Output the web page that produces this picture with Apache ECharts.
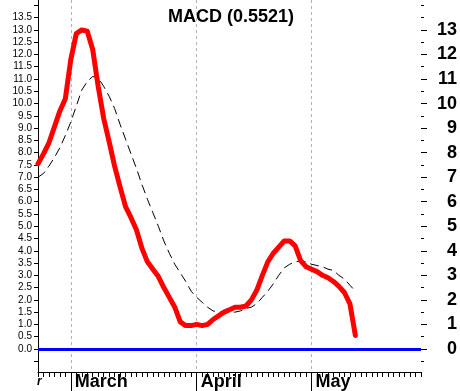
<!DOCTYPE html>
<html><head><meta charset="utf-8">
<script src="https://cdn.jsdelivr.net/npm/echarts@6/dist/echarts.min.js"></script>
<style>html,body{margin:0;padding:0;background:#fff}#c{width:460px;height:391px}</style>
</head><body><div id="c"></div>
<script>
// trading days shown on the axis
const febDays = [19, 22, 23, 24, 25, 26];
const marDays = [1,2,3,4,5,8,9,10,11,12,15,16,17,18,19,22,23,24,25,26,29,30,31];
const aprDays = [1,5,6,7,8,9,12,13,14,15,16,19,20,21,22,23,26,27,28,29,30];
const mayDays = [3,4,5,6,7,10,11,12,13,14,17,18,19,20,21,24,25,26,27,28,31];
const monthNames = ['February', 'March', 'April', 'May'];

// MACD line (red) and signal line (black dashed)
const macd = [7.55, 7.95, 8.4, 9.05, 9.7, 10.2, 11.8, 12.85, 13.0, 12.95,
  12.2, 10.7, 9.4, 8.45, 7.45, 6.6, 5.8, 5.35, 4.85, 4.1,
  3.55, 3.25, 2.95, 2.5, 2.1, 1.7, 1.1, 0.95, 0.95, 1.0,
  0.95, 1.0, 1.2, 1.35, 1.5, 1.6, 1.7, 1.7, 1.75, 2.0,
  2.4, 3.0, 3.55, 3.9, 4.15, 4.4, 4.4, 4.2, 3.6, 3.35,
  3.25, 3.15, 3.0, 2.9, 2.75, 2.55, 2.3, 1.85, 0.55];
const signal = [7.0, 7.15, 7.45, 7.8, 8.2, 8.7, 9.25, 9.9, 10.55, 10.9,
  11.1, 11.05, 10.7, 10.3, 9.8, 9.15, 8.55, 7.95, 7.35, 6.7,
  6.1, 5.55, 5.0, 4.4, 3.9, 3.45, 3.1, 2.75, 2.35, 2.1,
  1.9, 1.7, 1.55, 1.5, 1.5, 1.5, 1.5, 1.55, 1.65, 1.7,
  1.85, 2.1, 2.35, 2.65, 3.0, 3.3, 3.45, 3.55, 3.58, 3.55,
  3.45, 3.4, 3.35, 3.25, 3.2, 3.0, 2.85, 2.6, 2.35];

const leftLabels = [0,0.5,1,1.5,2,2.5,3,3.5,4,4.5,5,5.5,6,6.5,7,7.5,8,8.5,9,9.5,10,10.5,11,11.5,12,12.5,13,13.5];
const leftTicks = [-0.5,0,0.5,1,1.5,2,2.5,3,3.5,4,4.5,5,5.5,6,6.5,7,7.5,8,8.5,9,9.5,10,10.5,11,11.5,12,12.5,13,13.5,14];
const rightLabels = [0,1,2,3,4,5,6,7,8,9,10,11,12,13];
const rightHalfTicks = [-0.5,0.5,1.5,2.5,3.5,4.5,5.5,6.5,7.5,8.5,9.5,10.5,11.5,12.5,13.5,14];
const titleText = 'MACD (0.5521)';

// build categories
const monthDays = [febDays, marDays, aprDays, mayDays];
const categories = [];
const monthStart = {};
monthDays.forEach((days, m) => {
  monthStart[categories.length] = monthNames[m];
  days.forEach(d => categories.push((m + 2) + '/' + d));
});
const isMonthStart = i => i > 0 && monthStart[i] !== undefined;

const FONT = '"Liberation Sans", Arial, sans-serif';
const chart = echarts.init(document.getElementById('c'), null, {renderer: 'canvas'});
chart.setOption({
  animation: false,
  backgroundColor: '#ffffff',
  title: {
    text: titleText, left: 163, top: 3,
    textStyle: {fontFamily: FONT, fontSize: 18, fontWeight: 'bold', color: '#000'}
  },
  grid: {left: 38, right: 38, top: 0, bottom: 19, containLabel: false},
  xAxis: [{
    type: 'category', data: categories, boundaryGap: false, position: 'bottom',
    axisLine: {show: true, onZero: false, lineStyle: {color: '#000', width: 1}},
    axisTick: {show: true, interval: 0, length: 5, lineStyle: {color: '#000'}},
    axisLabel: {show: false},
    splitLine: {show: true, interval: (i) => isMonthStart(i),
      lineStyle: {color: '#b4b4b4', type: [3, 3], width: 1}}
  }, {
    type: 'category', data: categories, boundaryGap: false, position: 'bottom',
    axisLine: {show: false, onZero: false},
    axisTick: {show: true, interval: (i) => isMonthStart(i), length: 19, lineStyle: {color: '#000'}},
    axisLabel: {show: true, interval: (i) => isMonthStart(i), align: 'left', margin: 1,
      padding: [0, 0, 0, 4],
      formatter: (v, i) => monthStart[i] || '',
      fontFamily: FONT, fontSize: 18, fontWeight: 'bold', color: '#000'},
    splitLine: {show: false}
  }],
  yAxis: [{
    type: 'value', position: 'left', min: -0.94, max: 14.22,
    axisLine: {show: true, onZero: false, lineStyle: {color: '#000'}},
    axisTick: {show: true, length: 4, customValues: leftTicks, lineStyle: {color: '#000'}},
    axisLabel: {show: true, customValues: leftLabels, margin: 6,
      formatter: v => v.toFixed(1), fontFamily: FONT, fontSize: 10, color: '#000'},
    splitLine: {show: false}
  }, {
    type: 'value', position: 'right', min: -0.94, max: 14.22,
    axisLine: {show: false, onZero: false},
    axisTick: {show: true, length: 6, customValues: rightLabels, lineStyle: {color: '#000'}},
    axisLabel: {show: true, customValues: rightLabels, margin: 36, align: 'right',
      fontFamily: FONT, fontSize: 18, fontWeight: 'bold', color: '#000'},
    splitLine: {show: false}
  }, {
    type: 'value', position: 'right', min: -0.94, max: 14.22,
    axisLine: {show: false, onZero: false},
    axisTick: {show: true, length: 3, customValues: rightHalfTicks, lineStyle: {color: '#000'}},
    axisLabel: {show: false},
    splitLine: {show: false}
  }],
  graphic: [{
    type: 'text', left: 37, top: 376,
    style: {text: 'r', font: 'italic bold 12px ' + FONT, fill: '#000'}
  }],
  series: [{
    type: 'line', data: signal, xAxisIndex: 0, yAxisIndex: 0,
    showSymbol: false, symbol: 'none', smooth: false,
    lineStyle: {color: '#000', width: 1, type: [9, 5]},
    z: 3,
    markLine: {
      silent: true, symbol: ['none', 'none'], label: {show: false},
      lineStyle: {color: '#0000ff', width: 3, type: 'solid'},
      data: [{yAxis: 0}]
    }
  }, {
    type: 'line', data: macd, xAxisIndex: 0, yAxisIndex: 0,
    showSymbol: false, symbol: 'none', smooth: false,
    lineStyle: {color: '#ff0000', width: 5, cap: 'round', join: 'round'},
    z: 4
  }]
});
</script></body></html>
